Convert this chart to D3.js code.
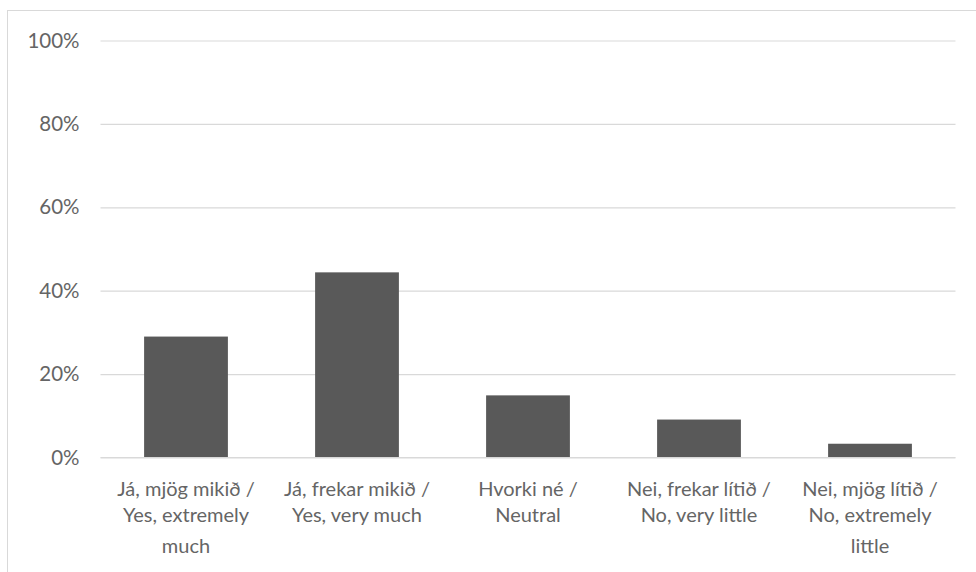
<!DOCTYPE html>
<html>
<head>
<meta charset="utf-8">
<script src="https://cdn.jsdelivr.net/npm/d3@7"></script>
<style>
  html, body { margin: 0; padding: 0; background: #fff; }
  svg { display: block; }
</style>
</head>
<body>
<svg id="chart" width="976" height="572"></svg>
<script>
// ---- data ----
const categories = [
  "Já, mjög mikið / Yes, extremely much",
  "Já, frekar mikið / Yes, very much",
  "Hvorki né / Neutral",
  "Nei, frekar lítið / No, very little",
  "Nei, mjög lítið / No, extremely little"
];
const categoryLines = [
  ["Já, mjög mikið /", "Yes, extremely", "much"],
  ["Já, frekar mikið /", "Yes, very much"],
  ["Hvorki né /", "Neutral"],
  ["Nei, frekar lítið /", "No, very little"],
  ["Nei, mjög lítið /", "No, extremely", "little"]
];
const values = [0.29, 0.444, 0.149, 0.091, 0.033];
const yTicks = [0, 0.2, 0.4, 0.6, 0.8, 1.0];

// ---- layout ----
const svg = d3.select("#chart");
const W = 976, H = 572;
const plot = { left: 100.5, right: 955.5, top: 40.5, bottom: 457.5 };
const FONT = "Lato, 'Open Sans', sans-serif";
const TEXT = "#656565";

// chart frame
svg.append("rect")
  .attr("x", 7.5).attr("y", 10.5)
  .attr("width", W + 20).attr("height", H + 20)
  .attr("fill", "#fff").attr("stroke", "#d9d9d9").attr("stroke-width", 1);

const x = d3.scaleBand().domain(categories).range([plot.left, plot.right]).paddingInner(0.51).paddingOuter(0.255);
const y = d3.scaleLinear().domain([0, 1]).range([plot.bottom, plot.top]);

// gridlines + y labels via axis
const yAxis = d3.axisLeft(y).tickValues(yTicks).tickFormat(d3.format(".0%"))
  .tickSize(-(plot.right - plot.left)).tickPadding(21);
const gy = svg.append("g").attr("transform", `translate(${plot.left},0)`).call(yAxis);
gy.select(".domain").remove();
gy.selectAll(".tick line").attr("stroke", "#d9d9d9").attr("stroke-width", 1.2);
gy.selectAll(".tick text").attr("fill", TEXT).attr("font-family", FONT).attr("font-size", 20.5);

// bars
svg.append("g").selectAll("rect").data(values).join("rect")
  .attr("x", (d, i) => x(categories[i]))
  .attr("y", d => y(d))
  .attr("width", x.bandwidth())
  .attr("height", d => y(0) - y(d))
  .attr("fill", "#595959");

// redraw baseline on top
svg.append("line")
  .attr("x1", plot.left).attr("x2", plot.right)
  .attr("y1", y(0)).attr("y2", y(0))
  .attr("stroke", "#d9d9d9").attr("stroke-width", 1.2);

// x labels
const lineOffsets = [0, 26.5, 57.5];
const xAxis = d3.axisBottom(x).tickSize(0).tickFormat("");
const gx = svg.append("g").attr("transform", `translate(0,${plot.bottom})`).call(xAxis);
gx.select(".domain").remove();
gx.selectAll(".tick").each(function(d, i) {
  const t = d3.select(this).append("text")
    .attr("fill", TEXT).attr("font-family", FONT).attr("font-size", 20)
    .attr("text-anchor", "middle");
  categoryLines[i].forEach((ln, j) => {
    t.append("tspan").attr("x", 0).attr("y", 38 + lineOffsets[j]).text(ln);
  });
});
</script>
</body>
</html>
